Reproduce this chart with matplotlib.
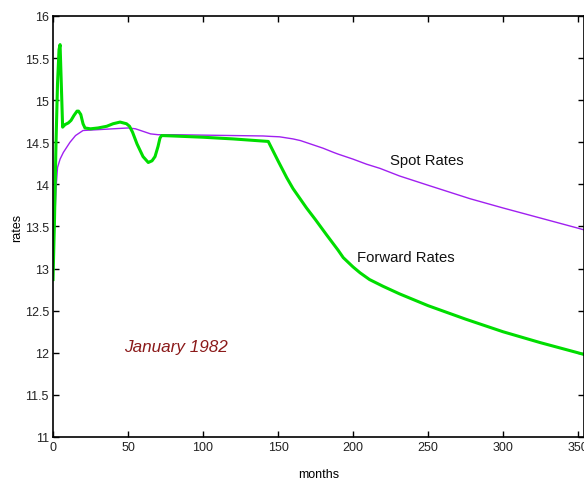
import matplotlib
matplotlib.use('Agg')
import matplotlib.pyplot as plt

plt.rcParams['font.family'] = ['Liberation Sans', 'DejaVu Sans']

# forward rates (green)
fwd_m = [0, 1, 2, 3, 4, 4.7, 5.5, 6.4, 8, 10.2, 12, 14, 16, 17, 18.5, 20, 21.3, 25, 30,
         35.8, 40, 44.7, 49, 51, 53, 56, 60, 63.5, 66, 68, 70, 71.3, 72.4, 80, 100, 120,
         143.5, 150, 155.8, 160, 169, 175, 182.4, 190, 193.5, 200, 204.7, 211, 220, 231,
         250, 275, 300, 325, 350, 356]
fwd_r = [12.87, 13.6, 14.5, 15.2, 15.6, 15.66, 15.2, 14.68, 14.71, 14.73, 14.76, 14.82,
         14.87, 14.87, 14.83, 14.72, 14.67, 14.66, 14.67, 14.69, 14.72, 14.74, 14.72,
         14.69, 14.62, 14.48, 14.33, 14.26, 14.28, 14.33, 14.45, 14.55, 14.58, 14.575,
         14.56, 14.54, 14.51, 14.28, 14.08, 13.95, 13.72, 13.58, 13.40, 13.22, 13.13, 13.02,
         12.95, 12.87, 12.79, 12.70, 12.56, 12.40, 12.25, 12.12, 12.00, 11.97]

# spot rates (purple)
spot_m = [0, 1, 2, 3, 4.7, 6.9, 11.3, 15, 20, 30, 40, 50, 55, 60, 65, 70, 80, 100, 120,
          140, 145, 151, 160, 165, 170, 180, 187, 190, 200, 209, 218, 231, 250, 278, 300,
          325, 350, 356]
spot_r = [12.86, 13.5, 13.95, 14.2, 14.30, 14.38, 14.50, 14.58, 14.64, 14.65, 14.66,
          14.67, 14.66, 14.63, 14.60, 14.59, 14.59, 14.585, 14.58, 14.575, 14.57, 14.565,
          14.54, 14.52, 14.49, 14.43, 14.38, 14.36, 14.30, 14.24, 14.19, 14.10, 13.99,
          13.83, 13.72, 13.60, 13.48, 13.45]

fig = plt.figure(figsize=(5.84, 4.81), dpi=100)
ax = fig.add_axes([0.0908, 0.0894, 0.9092, 0.8753])

ax.plot(spot_m, spot_r, color='#a020f0', lw=1.0)
ax.plot(fwd_m, fwd_r, color='#00dd00', lw=2.2)

ax.text(249, 14.29, 'Spot Rates', fontsize=10.7, ha='center', va='center', color='#111111')
ax.text(235, 13.14, 'Forward Rates', fontsize=10.7, ha='center', va='center', color='#111111')
ax.text(82, 12.08, 'January 1982', fontsize=12.3, style='italic', ha='center', va='center',
        color='#8b1a1a')

ax.set_xlim(0, 354)
ax.set_ylim(11, 16)
ax.set_xticks([0, 50, 100, 150, 200, 250, 300, 350])
ax.set_yticks([11, 11.5, 12, 12.5, 13, 13.5, 14, 14.5, 15, 15.5, 16])
ax.set_yticklabels(['11', '11.5', '12', '12.5', '13', '13.5', '14', '14.5', '15', '15.5', '16'])
ax.tick_params(direction='in', length=4, width=1, labelsize=9, top=True, right=True, pad=3,
               labelcolor='#222222')
for s in ax.spines.values():
    s.set_linewidth(1.2)
ax.set_xlabel('months', fontsize=9, labelpad=10.5)
ax.set_ylabel('rates', fontsize=9, labelpad=1)

fig.savefig('out.png', dpi=100)
